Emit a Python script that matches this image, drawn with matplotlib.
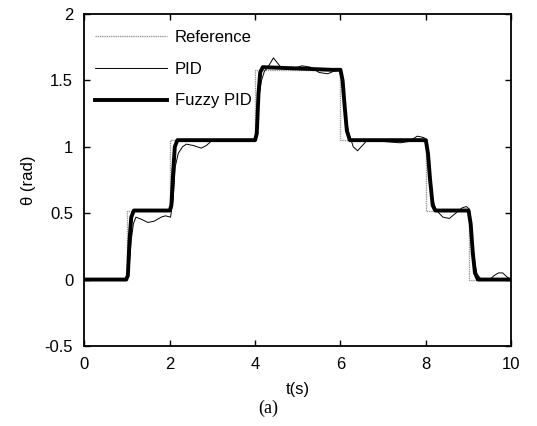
import matplotlib
matplotlib.use('Agg')
from matplotlib import pyplot as plt

# reference trajectory (step changes)
REF_T = [0, 1, 2, 4, 6, 8, 9, 10]
REF_Y = [0, 0.52, 1.05, 1.58, 1.05, 0.52, 0, 0]

# conventional PID response
PID_T = [0, 1.0, 1.05, 1.1, 1.15, 1.21, 1.33, 1.49, 1.64, 1.8, 1.9, 2.02,
         2.08, 2.13, 2.2, 2.3, 2.39, 2.55, 2.74, 2.86, 3.0, 3.4, 3.6, 3.8, 4.02,
         4.05, 4.1, 4.15, 4.22, 4.3, 4.43, 4.6, 4.8, 5.0, 5.1, 5.3, 5.5, 5.7, 5.85, 6.0,
         6.05, 6.1, 6.2, 6.3, 6.4, 6.6, 7.0, 7.4, 7.6, 7.8, 7.95, 8.02,
         8.1, 8.15, 8.2, 8.25, 8.4, 8.55, 8.7, 8.85, 8.95, 9.02,
         9.05, 9.1, 9.15, 9.2, 9.3, 9.5, 9.6, 9.7, 9.8, 9.9, 10.0]
PID_Y = [0, 0, 0.1, 0.3, 0.42, 0.47, 0.455, 0.43, 0.44, 0.47, 0.48, 0.47,
         0.6, 0.85, 0.95, 1.0, 1.02, 1.01, 0.99, 1.01, 1.05, 1.04, 1.04, 1.05, 1.05,
         1.2, 1.4, 1.5, 1.57, 1.6, 1.67, 1.6, 1.59, 1.6, 1.61, 1.6, 1.56, 1.55, 1.57, 1.58,
         1.45, 1.25, 1.1, 1.0, 0.97, 1.04, 1.04, 1.03, 1.04, 1.08, 1.07, 1.05,
         0.8, 0.62, 0.56, 0.52, 0.47, 0.46, 0.5, 0.54, 0.55, 0.53,
         0.4, 0.25, 0.12, 0.04, 0.0, 0.0, 0.03, 0.05, 0.05, 0.02, 0.0]

# fuzzy PID response
FUZZY_T = [0, 0.98, 1.02, 1.06, 1.1, 1.16, 2.0, 2.04, 2.08, 2.12, 2.18,
           4.0, 4.04, 4.08, 4.12, 4.18, 5.0, 5.8, 6.0, 6.05, 6.1, 6.15, 6.22,
           8.0, 8.05, 8.1, 8.16, 8.22, 9.0, 9.05, 9.1, 9.15, 9.22, 10.0]
FUZZY_Y = [0, 0, 0.03, 0.3, 0.47, 0.52, 0.52, 0.56, 0.8, 1.0, 1.05,
           1.05, 1.1, 1.4, 1.56, 1.6, 1.59, 1.58, 1.58, 1.5, 1.3, 1.12, 1.05,
           1.05, 0.95, 0.75, 0.56, 0.52, 0.52, 0.42, 0.2, 0.05, 0.0, 0.0]

X_TICKS = [0, 2, 4, 6, 8, 10]
Y_TICKS = [-0.5, 0, 0.5, 1, 1.5, 2]

plt.rcParams['font.family'] = ['Liberation Sans', 'DejaVu Sans']
plt.rcParams['font.size'] = 12

fig = plt.figure(figsize=(5.37, 4.26), dpi=100)
ax = fig.add_axes([0.157, 0.188, 0.795, 0.779])

ax.step(REF_T, REF_Y, where='post', color='#9a9a9a', lw=1.0, linestyle=(0, (1, 0.6)),
        label='Reference')
ax.plot(PID_T, PID_Y, color='black', lw=0.7, label='PID')
ax.plot(FUZZY_T, FUZZY_Y, color='black', lw=2.8, label='Fuzzy PID',
        solid_joinstyle='round')

ax.set_xlim(0, 10)
ax.set_ylim(-0.5, 2)
ax.set_xticks(X_TICKS, [f'{v:g}' for v in X_TICKS])
ax.set_yticks(Y_TICKS, [f'{v:g}' for v in Y_TICKS])
ax.tick_params(direction='in', top=True, right=True, length=4, width=1.0)
ax.tick_params(axis='x', pad=8)
ax.tick_params(axis='y', pad=8)
for s in ax.spines.values():
    s.set_linewidth(1.3)

ax.set_xlabel('t(s)', labelpad=7)
ax.set_ylabel('\u03b8 (rad)', labelpad=6)

ax.legend(loc='upper left', bbox_to_anchor=(-0.01, 0.997), frameon=False,
          handlelength=4.3, handletextpad=0.5, labelspacing=1.0, fontsize=12)

fig.text(0.5, 0.042, '(a)', ha='center', va='center',
         family='Liberation Serif', fontsize=13)

fig.savefig('out.png', dpi=100)
